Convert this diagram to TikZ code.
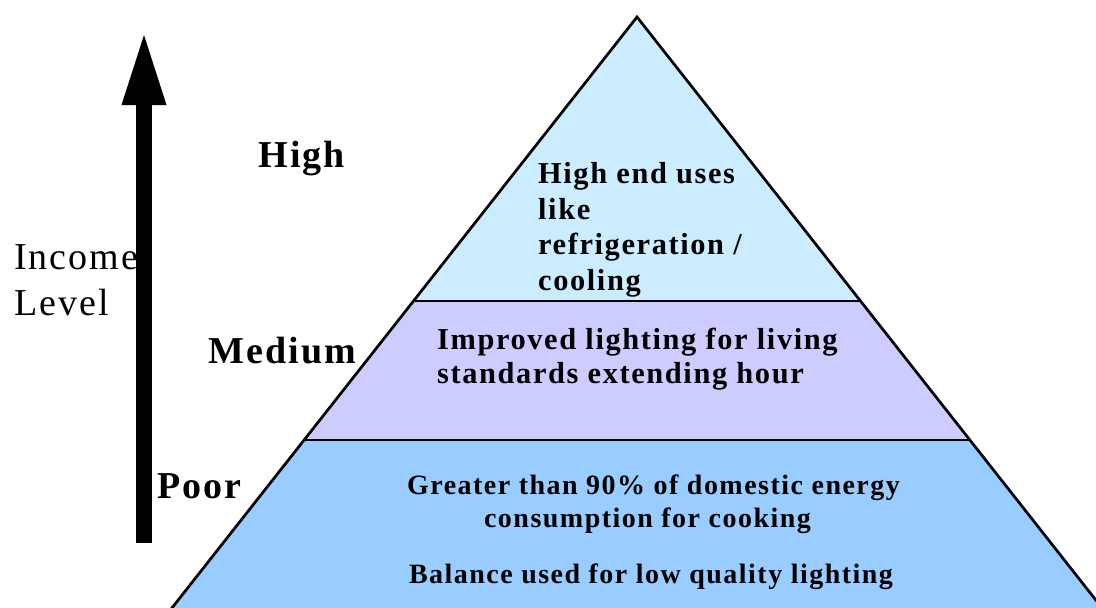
\documentclass[tikz,border=0pt]{standalone}
\usepackage{fontspec}
\setmainfont{Liberation Serif}[LetterSpace=5.3]
\usetikzlibrary{arrows.meta}
\definecolor{tiertop}{HTML}{CCECFF}
\definecolor{tiermid}{HTML}{CCCCFF}
\definecolor{tierbot}{HTML}{99CCFF}
\begin{document}
\begin{tikzpicture}[x=1pt,y=-1pt,
  tierline/.style={line width=2.7pt, line join=miter},
  levellabel/.style={font=\fontsize{38}{44}\selectfont\bfseries, inner sep=0pt, anchor=base},
  axislabel/.style={font=\fontsize{38}{44}\selectfont, inner sep=0pt, anchor=base west},
  uppertext/.style={font=\fontsize{30.4}{36}\selectfont\bfseries, inner sep=0pt, anchor=base west},
  lowertext/.style={font=\fontsize{28}{33}\selectfont\bfseries, inner sep=0pt, anchor=base}]
\useasboundingbox (0,0) rectangle (1096,608);
\clip (0,0) rectangle (1096,608);

% pyramid corners
\coordinate (apex) at (637,17);
\coordinate (tl) at (413.5,301);
\coordinate (tr) at (860.5,301);
\coordinate (ml) at (303.6,440);
\coordinate (mr) at (970.4,440);
\coordinate (bl) at (167.2,614);
\coordinate (br) at (1106.8,614);

% tiers
\fill[tiertop] (apex) -- (tr) -- (tl) -- cycle;
\fill[tiermid] (tl) -- (tr) -- (mr) -- (ml) -- cycle;
\fill[tierbot] (ml) -- (mr) -- (br) -- (bl) -- cycle;
\draw[tierline] (bl) -- (apex) -- (br);
\draw[tierline] (tl) -- (tr);
\draw[tierline] (ml) -- (mr);

% level labels
\node[levellabel] (high) at (302,167) {High};
\node[levellabel] (medium) at (282.5,363) {Medium};
\node[levellabel] (poor) at (199.5,498) {Poor};

% axis label and arrow
\node[axislabel] (income) at (14,269) {Income};
\node[axislabel] (level) at (14,315) {Level};
\coordinate (foot) at (144,543);
\coordinate (tip) at (144,35);
\draw[line width=16pt, -{Triangle[length=70pt, width=45pt, line width=0pt]}] (foot) -- (tip);

% top tier text
\node[uppertext] (t1) at (538,183) {High end uses};
\node[uppertext] (t2) at (538,219) {like};
\node[uppertext] (t3) at (538,254.5) {refrigeration /};
\node[uppertext] (t4) at (538,290) {cooling};

% middle tier text
\node[uppertext] (m1) at (437,349) {Improved lighting for living};
\node[uppertext] (m2) at (437,383) {standards extending hour};

% bottom tier text
\node[lowertext] (b1) at (653.5,494) {Greater than 90\% of domestic energy};
\node[lowertext] (b2) at (647.5,527) {consumption for cooking};
\node[lowertext] (b3) at (651,583) {Balance used for low quality lighting};
\end{tikzpicture}
\end{document}
